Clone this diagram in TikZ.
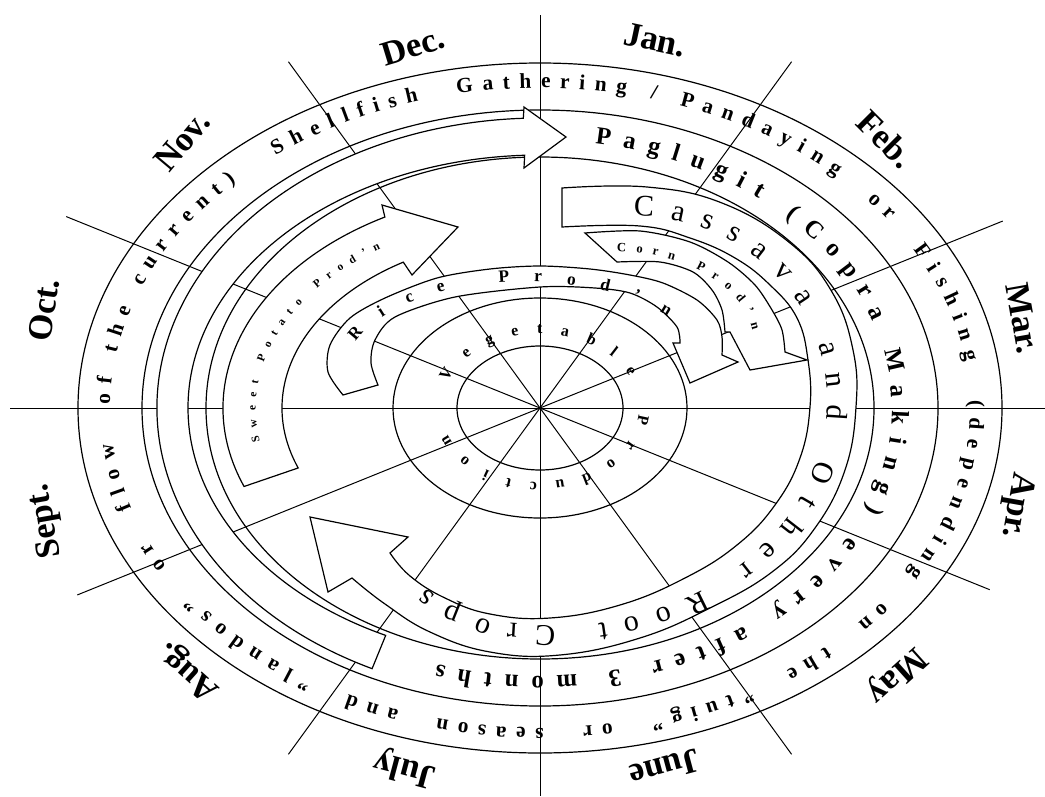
\documentclass[tikz,border=0pt]{standalone}
\usepackage{fontspec}
\setmainfont{Liberation Serif}
\usetikzlibrary{decorations.text,calc}
\newcommand\monthfont{\fontsize{26}{26}\selectfont\bfseries}
\newcommand\ringAfont{\fontsize{16}{16}\selectfont\bfseries}
\newcommand\ringBfont{\fontsize{18.5}{18.5}\selectfont\bfseries}
\newcommand\cassfont{\fontsize{22.5}{22.5}\selectfont}
\newcommand\ricefont{\fontsize{13}{13}\selectfont\bfseries}
\newcommand\cornfont{\fontsize{9.5}{9.5}\selectfont\bfseries}
\newcommand\sweetfont{\fontsize{8.5}{8.5}\selectfont\bfseries}
\newcommand\vegfont{\fontsize{12}{12}\selectfont\bfseries}
\begin{document}
\begin{tikzpicture}[x=0.75pt,y=-0.75pt,
  ring/.style={draw=black,line width=0.9pt},
  spoke/.style={draw=black,line width=0.75pt},
  band/.style={draw=black,fill=white,line width=0.9pt,line join=miter},
  month/.style={inner sep=0pt,font=\monthfont},
]
\useasboundingbox (0,0) rectangle (1045,796);
\coordinate (C) at (540,408);
% spokes
\draw[spoke] (10,408) -- (1045,408);
\draw[spoke] (540,15) -- (540,796);
\foreach \a/\l in {22/485,54/428,126/428,158/499,202/511,234/428,306/428,338/499}
  \draw[spoke] (C) -- ++(\a:\l);
% full ellipses
\foreach \rx/\ry in {462/345,398/298,334/251,147/110,83/62}
  \draw[ring] (C) ellipse[x radius=\rx, y radius=\ry];
% big shaft (fishing / shellfish)
\draw[band] ($(C)+(116:383 and 290)$) arc[start angle=116,end angle=267.5,x radius=383,y radius=290]
  -- (524,107) -- (566,137) -- (524,168) -- ($(C)+(267.5:352 and 253)$)
  arc[start angle=267.5,end angle=116,x radius=352,y radius=253] -- cycle;
% cassava band
\draw[band] plot[smooth,tension=0.7] coordinates {(562,188) (647,187) (722,203) (790,243) (832,292) (853,350) (856,407) (845,470) (815,528) (772,572) (710,608) (640,638) (560,655) (490,652) (430,632) (385,604) (352,578)}
 -- (328,592) -- (310,517) -- (408,537) -- (390,553)
 -- plot[smooth,tension=0.7] coordinates {(390,553) (410,576) (445,598) (490,614) (550,618) (620,605) (685,578) (737,545) (775,505) (800,458) (810,407) (808,360) (797,318) (770,285) (735,258) (690,238) (640,226) (562,227)} -- cycle;
% corn band
\draw[band] plot[smooth] coordinates {(585,233) (640,231) (690,242) (728,262) (755,285) (772,310) (782,330) (785,352)}
 -- (807,360) -- (750,370) -- (730,332) -- (725,332)
 -- plot[smooth] coordinates {(725,332) (722,310) (712,290) (693,272) (660,262) (617,262)} -- cycle;
% rice band
\draw[band] plot[smooth] coordinates {(343,395) (328,372) (330,345) (350,318) (385,298) (437,278) (490,269) (540,266) (590,269) (630,275) (663,283) (697,300) (717,320) (722,337) (722,355)}
 -- (738,362) -- (690,383) -- (673,343) -- (680,343)
 -- plot[smooth] coordinates {(680,343) (677,327) (657,307) (630,293) (595,288) (540,287) (455,297) (395,317) (375,340) (371,363) (378,385)} -- cycle;
% sweet potato band
\draw[band] ($(C)+(159:317 and 219)$) arc[start angle=159,end angle=240.7,x radius=317,y radius=219]
 -- (382,205) -- (458,227) -- (412,275) -- ($(C)+(238:258 and 172)$)
 arc[start angle=238,end angle=159.6,x radius=258,y radius=172] -- cycle;
% texts
\path[decorate,decoration={text along path,text align={fit to path},
  text={|\ringAfont|Shellfish~~Gathering~/~Pandaying~~or~~Fishing~~(depending~~on~~the~~”tuig”~~or~~season~~and~~”landos”~~or~~flow~~of~the~current)}}]
  ($(C)+(232:430 and 320)$) arc[start angle=232,end angle=585,x radius=430,y radius=320];
\path[decorate,decoration={text along path,text align={fit to path},
  text={|\ringBfont|Paglugit (Copra Making) every after 3 months}}]
  ($(C)+(279:352 and 268)$) arc[start angle=279,end angle=467,x radius=352,y radius=268];
\path[decorate,decoration={text along path,text align={fit to path},raise=-7.5pt,
  text={|\cassfont|Cassava and Other Root Crops}}]
  (634,206) arc[start angle=270,end angle=360,x radius=203,y radius=194]
  arc[start angle=0,end angle=90,x radius=282,y radius=236]
  -- (490,632) -- (440,612) -- (420,596);
\path[decorate,decoration={text along path,text align={fit to path},raise=-4.3pt,
  text={|\ricefont|Rice Prod'n}}]
  ($(525,370)+(200:185 and 94)$) arc[start angle=200,end angle=322,x radius=185,y radius=94];
\path[decorate,decoration={text along path,text align={fit to path},raise=-3.2pt,
  text={|\cornfont|Corn Prod'n}}]
  ($(612,342)+(272:146 and 95)$) arc[start angle=272,end angle=352,x radius=146,y radius=95];
\path[decorate,decoration={text along path,text align={fit to path},raise=-2.8pt,
  text={|\sweetfont|Sweet Potato Prod'n}}]
  ($(C)+(170:288 and 196)$) arc[start angle=170,end angle=236,x radius=288,y radius=196];
\path[decorate,decoration={text along path,text align={fit to path},
  text={|\vegfont|Vegetable Production}}]
  ($(C)+(201:99 and 74)$) arc[start angle=201,end angle=519,x radius=99,y radius=74];
% months
\node[month,rotate=-12] (jan) at (655,40) {Jan.};
\node[month,rotate=17] (dec) at (413,46) {Dec.};
\node[month,rotate=50] (nov) at (182,141) {Nov.};
\node[month,rotate=82] (oct) at (44,310) {Oct.};
\node[month,rotate=100] (sep) at (46,521) {Sept.};
\node[month,rotate=138] (aug) at (189,671) {Aug.};
\node[month,rotate=165] (jul) at (405,768) {July};
\node[month,rotate=-165] (jun) at (665,768) {June};
\node[month,rotate=-138] (may) at (896,675) {May};
\node[month,rotate=-100] (apr) at (1016,505) {Apr.};
\node[month,rotate=-80] (mar) at (1023,318) {Mar.};
\node[month,rotate=-45] (feb) at (886,139) {Feb.};
\end{tikzpicture}
\end{document}
